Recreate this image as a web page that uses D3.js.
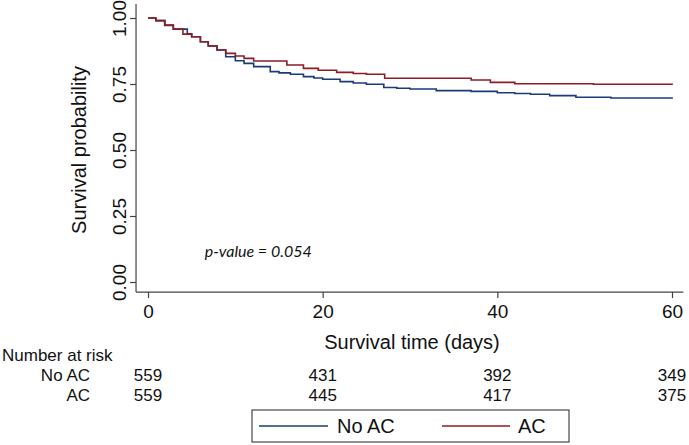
<!DOCTYPE html>
<html><head><meta charset="utf-8">
<script src="https://cdn.jsdelivr.net/npm/d3@7"></script>
<style>
html,body{margin:0;padding:0;background:#fff;}
text{font-family:"Liberation Sans",Arial,sans-serif;fill:#111;}
</style></head>
<body><svg id="c" width="689" height="445"></svg>
<script>
// Data
const groups = ["No AC", "AC"];
const colors = ["#1d3a78", "#8c1d26"];
const timesNoAC = [0, 0.9, 1.9, 2.9, 4.5, 5.0, 6.0, 6.9, 7.9, 8.9, 10.0, 11.0, 12.1, 14.0, 15.0, 16.3, 17.8, 19.0, 20.0, 22.0, 23.5, 25.0, 27.0, 28.5, 30.0, 33.0, 37.0, 40.0, 42.0, 43.8, 46.0, 49.0, 53.0, 60.1];
const survNoAC  = [1.0, 0.990, 0.972, 0.958, 0.940, 0.929, 0.910, 0.894, 0.879, 0.853, 0.838, 0.828, 0.816, 0.797, 0.792, 0.787, 0.778, 0.773, 0.768, 0.759, 0.754, 0.749, 0.737, 0.734, 0.731, 0.725, 0.722, 0.717, 0.714, 0.711, 0.706, 0.700, 0.697, 0.697];
const timesAC = [0, 0.9, 1.95, 2.9, 4.0, 5.0, 6.0, 6.9, 7.9, 8.9, 10.0, 11.0, 12.1, 15.9, 17.8, 19.5, 21.6, 23.5, 25.0, 27.1, 37.0, 39.2, 42.0, 51.0, 60.1];
const survAC  = [1.0, 0.990, 0.973, 0.958, 0.939, 0.929, 0.910, 0.894, 0.879, 0.866, 0.856, 0.847, 0.837, 0.822, 0.809, 0.802, 0.794, 0.790, 0.787, 0.772, 0.765, 0.756, 0.751, 0.749, 0.749];
const xTicks = [0, 20, 40, 60];
const yTicks = [0, 0.25, 0.5, 0.75, 1.0];
const riskNoAC = [559, 431, 392, 349];
const riskAC = [559, 445, 417, 375];
const pValueText = "p-value = 0.054";

const svg = d3.select("#c");
const x = d3.scaleLinear().domain([0, 60]).range([148, 672]);
const y = d3.scaleLinear().domain([0, 1]).range([282, 18]);
const axisColor = "#444";

// axis domain lines
const xMin = -1.37, xMax = 61.3, yMin = -0.038, yMax = 1.053;
svg.append("line").attr("x1", x(xMin)).attr("x2", x(xMax)).attr("y1", y(yMin)).attr("y2", y(yMin))
  .attr("stroke", axisColor).attr("stroke-width", 1.2);
svg.append("line").attr("x1", x(xMin)).attr("x2", x(xMin)).attr("y1", y(yMin)).attr("y2", y(yMax))
  .attr("stroke", axisColor).attr("stroke-width", 1.2);

// Y axis
const yAxis = svg.append("g").attr("transform", `translate(${x(xMin)},0)`)
  .call(d3.axisLeft(y).tickValues(yTicks).tickFormat(d3.format(".2f")).tickSize(6).tickSizeOuter(0));
yAxis.select(".domain").remove();
yAxis.selectAll(".tick line").attr("stroke", axisColor).attr("stroke-width", 1.2);
yAxis.selectAll(".tick text").attr("font-size", 19).attr("font-family", null)
  .attr("transform", "rotate(-90)").attr("x", 0).attr("y", -10).attr("dy", "0")
  .attr("text-anchor", "middle");

// X axis
const xAxis = svg.append("g").attr("transform", `translate(0,${y(yMin)})`)
  .call(d3.axisBottom(x).tickValues(xTicks).tickFormat(d3.format("d")).tickSize(6).tickSizeOuter(0));
xAxis.select(".domain").remove();
xAxis.selectAll(".tick line").attr("stroke", axisColor).attr("stroke-width", 1.2);
xAxis.selectAll(".tick text").attr("font-size", 19).attr("font-family", null).attr("y", 26).attr("dy", "0");

// Axis titles
svg.append("text").attr("transform", `translate(86,${y(0.5)}) rotate(-90)`)
  .attr("text-anchor", "middle").attr("font-size", 20).text("Survival probability");
svg.append("text").attr("x", (x(0) + x(60)) / 2 + 2).attr("y", 349)
  .attr("text-anchor", "middle").attr("font-size", 20).text("Survival time (days)");

// curves
const series = [
  {name: groups[0], t: timesNoAC, s: survNoAC, color: colors[0]},
  {name: groups[1], t: timesAC, s: survAC, color: colors[1]}
];
const line = d3.line().x(d => x(d[0])).y(d => y(d[1])).curve(d3.curveStepAfter);
series.forEach(sr => {
  const pts = sr.t.map((t, i) => [t, sr.s[i]]);
  svg.append("path").datum(pts).attr("d", line).attr("fill", "none")
    .attr("stroke", sr.color).attr("stroke-width", 1.6);
});

// p-value
svg.append("text").attr("x", x(6.5)).attr("y", 257).attr("font-size", 16)
  .attr("font-style", "italic").style("font-family", "Lato, 'Open Sans', sans-serif").text(pValueText);

// Number at risk table
svg.append("text").attr("x", 2).attr("y", 361).attr("font-size", 17).text("Number at risk");
const rows = [{label: groups[0], vals: riskNoAC, yy: 381}, {label: groups[1], vals: riskAC, yy: 401}];
rows.forEach(r => {
  svg.append("text").attr("x", 90).attr("y", r.yy).attr("text-anchor", "end").attr("font-size", 17).text(r.label);
  svg.selectAll(null).data(r.vals).enter().append("text")
    .attr("x", (d, i) => x(xTicks[i])).attr("y", r.yy).attr("text-anchor", "middle")
    .attr("font-size", 17).text(d => d);
});

// Legend
const lg = svg.append("g");
lg.append("rect").attr("x", 252).attr("y", 410).attr("width", 317).attr("height", 32)
  .attr("fill", "none").attr("stroke", "#222").attr("stroke-width", 1);
const legItems = [{lx1: 259, lx2: 328, tx: 337}, {lx1: 442, lx2: 510, tx: 518}];
legItems.forEach((it, i) => {
  lg.append("line").attr("x1", it.lx1).attr("x2", it.lx2).attr("y1", 426).attr("y2", 426)
    .attr("stroke", colors[i]).attr("stroke-width", 1.5);
  lg.append("text").attr("x", it.tx).attr("y", 433).attr("font-size", 20).text(groups[i]);
});
</script></body></html>
